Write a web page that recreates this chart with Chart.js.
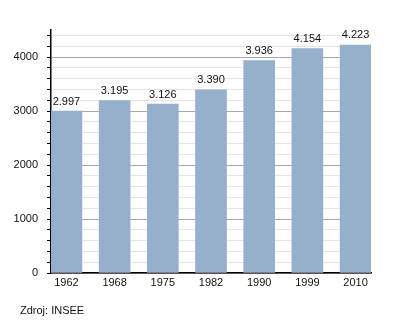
<!DOCTYPE html>
<html>
<head>
<meta charset="utf-8">
<script src="https://cdn.jsdelivr.net/npm/chart.js@4/dist/chart.umd.min.js"></script>
<style>
  html, body { margin: 0; padding: 0; background: #fff; }
  #wrap { position: relative; width: 400px; height: 323px; }
  #source { position: absolute; left: 20px; top: 304px; font: 11px "Liberation Sans", Arial, sans-serif; color: #111; }
</style>
</head>
<body>
<div id="wrap">
  <canvas id="chart" width="400" height="323"></canvas>
  <div id="source">Zdroj: INSEE</div>
</div>
<script>
const years = ['1962', '1968', '1975', '1982', '1990', '1999', '2010'];
const population = [2997, 3195, 3126, 3390, 3936, 4154, 4223];
const yTicks = [0, 1000, 2000, 3000, 4000];

// thousands separator as a dot
function formatValue(v) {
    return String(v).replace(/\B(?=(\d{3})+(?!\d))/g, '.');
}

// value labels above each bar
const barLabels = {
    id: 'barLabels',
    afterDatasetsDraw(chart) {
        const ctx = chart.ctx;
        const meta = chart.getDatasetMeta(0);
        ctx.save();
        ctx.font = '11px "Liberation Sans", Arial, sans-serif';
        ctx.fillStyle = '#111';
        ctx.textAlign = 'center';
        ctx.textBaseline = 'bottom';
        meta.data.forEach((bar, i) => {
            ctx.fillText(formatValue(population[i]), bar.x, bar.y - 4);
        });
        ctx.restore();
    }
};

new Chart(document.getElementById('chart'), {
    type: 'bar',
    data: {
        datasets: [{
            data: population.map((v, i) => ({ x: i, y: v })),
            backgroundColor: '#96afca',
            borderWidth: 0,
            barThickness: 31
        }]
    },
    options: {
        responsive: false,
        animation: false,
        layout: { padding: { left: 0, right: 29, top: 30, bottom: 0 } },
        plugins: { legend: { display: false }, tooltip: { enabled: false } },
        scales: {
            x: {
                type: 'linear',
                offset: false,
                min: -0.32,
                max: 6.32,
                afterFit: scale => { scale.height = 50; },
                grid: { display: false, drawTicks: false },
                border: { color: '#000', width: 1.5 },
                ticks: {
                    stepSize: 1,
                    includeBounds: false,
                    padding: 3,
                    autoSkip: false,
                    maxRotation: 0,
                    color: '#111',
                    font: { family: '"Liberation Sans", Arial, sans-serif', size: 11 },
                    callback: v => years[v] || ''
                }
            },
            y: {
                min: 0,
                max: 4500,
                afterFit: scale => { scale.width = 51; },
                border: { color: '#000', width: 1.5 },
                grid: {
                    tickLength: 4,
                    color: c => c.tick.value >= 4500 ? 'rgba(0,0,0,0)' : (c.tick.value % 1000 === 0 ? '#a8a8a8' : '#e4e4e4'),
                    tickColor: c => c.tick.value >= 4500 ? 'rgba(0,0,0,0)' : '#000'
                },
                ticks: {
                    stepSize: 200,
                    includeBounds: false,
                    padding: 9,
                    autoSkip: false,
                    color: '#111',
                    font: { family: '"Liberation Sans", Arial, sans-serif', size: 11 },
                    callback: v => yTicks.includes(v) ? String(v) : ''
                }
            }
        }
    },
    plugins: [barLabels]
});
</script>
</body>
</html>
